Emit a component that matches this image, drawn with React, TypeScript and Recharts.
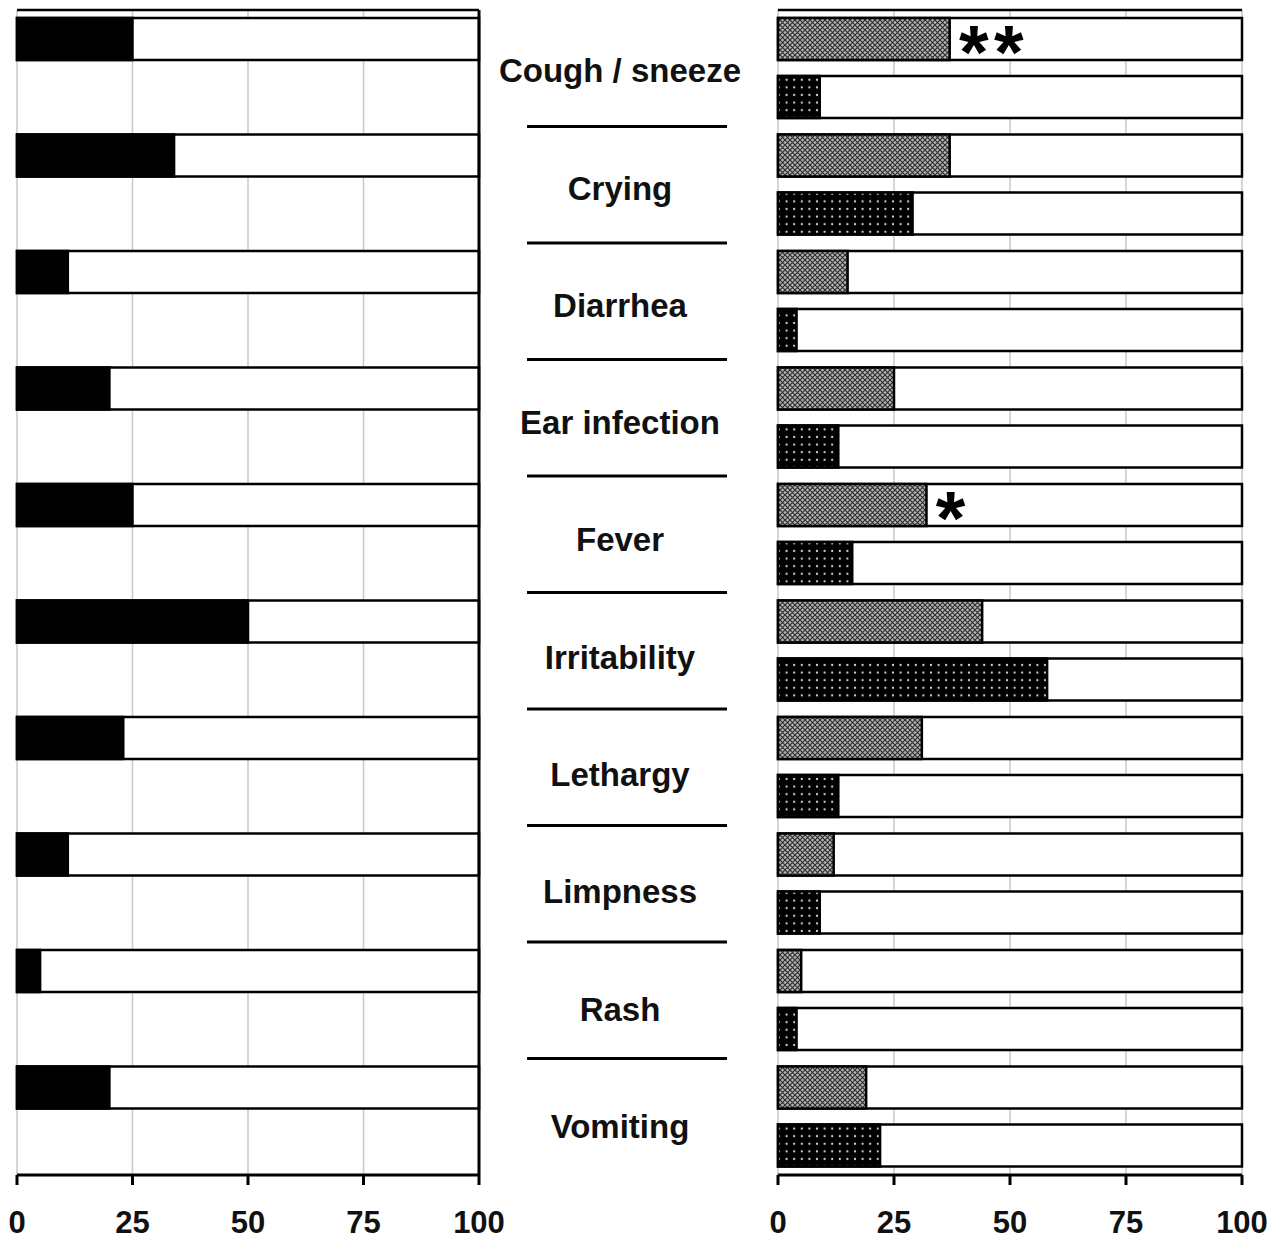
import React from 'react';
import { BarChart, Bar, XAxis, YAxis, CartesianGrid, LabelList } from 'recharts';

const categories = [
  'Cough / sneeze',
  'Crying',
  'Diarrhea',
  'Ear infection',
  'Fever',
  'Irritability',
  'Lethargy',
  'Limpness',
  'Rash',
  'Vomiting',
];

// left panel (one bar per symptom)
const leftValues = [25, 34, 11, 20, 25, 50, 23, 11, 5, 20];

// right panel: hatched (upper) and dotted (lower) bars
const hatchedValues = [37, 37, 15, 25, 32, 44, 31, 12, 5, 19];
const dottedValues = [9, 29, 4, 13, 16, 58, 13, 9, 4, 22];
const significance = ['**', '', '', '', '*', '', '', '', '', ''];

const xTicks = [0, 25, 50, 75, 100];

const leftData = categories.map((name, i) => ({ name, value: leftValues[i] }));
const rightData = categories.map((name, i) => ({
  name,
  hatched: hatchedValues[i],
  dotted: dottedValues[i],
  mark: significance[i],
}));

const FONT = '"Liberation Sans", Arial, sans-serif';
const BAND = 116.5;
const OUTLINE = { fill: '#fff', stroke: '#000', strokeWidth: 2.5 };

const MiddleLabel = ({ x, y, payload, index }: any) => (
  <g>
    <text
      x={x + 141}
      y={y + 14 + index * 0.8}
      textAnchor="middle"
      fontFamily={FONT}
      fontWeight={700}
      fontSize={33}
      fill="#111"
    >
      {payload.value}
    </text>
    {index < categories.length - 1 && (
      <line x1={x + 48} x2={x + 248} y1={y + BAND / 2} y2={y + BAND / 2} stroke="#000" strokeWidth={3} />
    )}
  </g>
);

const renderMark = (props: any) => {
  const { x, y, width, height, value } = props;
  if (!value) return null;
  const cy = y + height / 2;
  return (
    <g>
      {String(value)
        .split('')
        .map((c, i) => (
          <text
            key={i}
            x={x + width + 24 + i * 35}
            y={cy + 39}
            textAnchor="middle"
            fontFamily={FONT}
            fontWeight={700}
            fontSize={76}
            fill="#000"
          >
            {c}
          </text>
        ))}
    </g>
  );
};

const axisProps = {
  type: 'number' as const,
  domain: [0, 100],
  ticks: xTicks,
  height: 64,
  tickSize: 10,
  tickMargin: 26,
  axisLine: { stroke: '#000', strokeWidth: 3 },
  tickLine: { stroke: '#000', strokeWidth: 3 },
  tick: { fill: '#111', fontSize: 31, fontWeight: 700, fontFamily: FONT },
  interval: 0 as const,
};

export default function App() {
  return (
    <div style={{ position: 'absolute', left: 0, top: 0, width: 1283, height: 1239, background: '#fff' }}>
      <div style={{ position: 'absolute', left: 0, top: 0 }}>
        <BarChart
          width={760}
          height={1239}
          data={leftData}
          layout="vertical"
          margin={{ top: 10, right: 0, left: 17, bottom: 0 }}
          barSize={42}
          barGap={16}
        >
          <CartesianGrid horizontal={false} stroke="#c8c8c8" strokeWidth={1.5} />
          <CartesianGrid vertical={false} horizontalPoints={[10]} stroke="#000" strokeWidth={2.5} />
          <XAxis {...axisProps} />
          <YAxis type="category" dataKey="name" width={0} tick={false} tickLine={false} axisLine={{ stroke: '#000', strokeWidth: 3 }} />
          <YAxis
            yAxisId="r"
            orientation="right"
            type="category"
            dataKey="name"
            width={281}
            tickLine={false}
            tickSize={0}
            tickMargin={0}
            interval={0}
            axisLine={{ stroke: '#000', strokeWidth: 3 }}
            tick={<MiddleLabel />}
          />
          <Bar dataKey="value" fill="#000" stroke="#000" strokeWidth={2.5} background={OUTLINE} isAnimationActive={false} />
          <Bar dataKey="empty" fill="none" isAnimationActive={false} />
        </BarChart>
      </div>
      <div style={{ position: 'absolute', left: 760, top: 0 }}>
        <BarChart
          width={523}
          height={1239}
          data={rightData}
          layout="vertical"
          margin={{ top: 10, right: 41, left: 18, bottom: 0 }}
          barSize={42}
          barGap={16}
        >
          <defs>
            <pattern id="hatch" width="5" height="5" patternUnits="userSpaceOnUse">
              <rect width="5" height="5" fill="#b4b4b4" />
              <path d="M0,0 L5,5 M5,0 L0,5" stroke="#2c2c2c" strokeWidth="1.1" />
            </pattern>
            <pattern id="dots" width="7.6" height="7.6" patternUnits="userSpaceOnUse">
              <rect width="7.6" height="7.6" fill="#000" />
              <circle cx="3.8" cy="3.8" r="1.1" fill="#dcdcdc" />
            </pattern>
          </defs>
          <CartesianGrid horizontal={false} stroke="#c8c8c8" strokeWidth={1.5} />
          <CartesianGrid vertical={false} horizontalPoints={[10]} stroke="#000" strokeWidth={2.5} />
          <XAxis {...axisProps} />
          <YAxis type="category" dataKey="name" width={0} tick={false} tickLine={false} axisLine={{ stroke: '#000', strokeWidth: 3 }} />
          <YAxis yAxisId="r" orientation="right" type="category" dataKey="name" width={0} tick={false} tickLine={false} axisLine={{ stroke: '#000', strokeWidth: 3 }} />
          <Bar dataKey="hatched" fill="url(#hatch)" stroke="#000" strokeWidth={2.5} background={OUTLINE} isAnimationActive={false}>
            <LabelList dataKey="mark" content={renderMark} />
          </Bar>
          <Bar dataKey="dotted" fill="url(#dots)" stroke="#000" strokeWidth={2.5} background={OUTLINE} isAnimationActive={false} />
        </BarChart>
      </div>
    </div>
  );
}
